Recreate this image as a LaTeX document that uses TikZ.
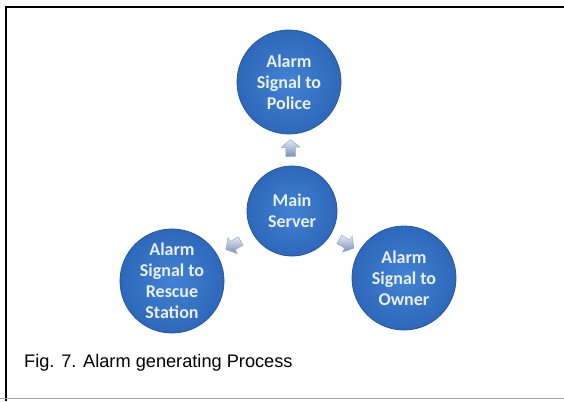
\documentclass[tikz,border=0pt]{standalone}
\usepackage{fontspec}
\setmainfont{Liberation Sans}
\newfontfamily\bubblefont{Carlito}
\usetikzlibrary{shapes.arrows}

\definecolor{bubbleblue}{RGB}{46,104,186}
\definecolor{bubblelight}{RGB}{66,130,212}
\definecolor{bubbleedge}{RGB}{38,86,158}
\definecolor{bubbletext}{RGB}{232,240,250}
\definecolor{arrowlight}{RGB}{228,234,244}
\definecolor{arrowdark}{RGB}{122,144,182}

\begin{document}
\begin{tikzpicture}[x=1pt,y=-1pt,
  bubble/.style={circle,minimum size=104pt,inner sep=0pt,draw=bubbleedge,line width=0.8pt,
    inner color=bubblelight,outer color=bubbleblue,text=bubbletext,align=center,
    font=\bubblefont\bfseries\fontsize{18}{21}\selectfont},
  hubbubble/.style={bubble,minimum size=90pt},
  blockarr/.style={single arrow,minimum height=17pt,minimum width=18pt,inner xsep=2pt,inner ysep=4.5pt,
    single arrow head extend=4.5pt,single arrow tip angle=100,draw=arrowdark!80,line width=0.5pt,
    top color=arrowlight,bottom color=arrowdark,sloped,allow upside down}]

\useasboundingbox (0,0) rectangle (564,401);

% Frame
\draw[line width=2pt] (5.5,401) -- (5.5,7) -- (564,7);
\draw[gray!70,line width=1.2pt] (0,398.5) -- (564,398.5);

% Bubbles
\node[hubbubble] (server) at (292,211) {Main\\Server};
\node[bubble] (police) at (289,82) {Alarm\\Signal to\\Police};
\node[bubble] (rescue) at (172,281) {Alarm\\Signal to\\Rescue\\Station};
\node[bubble] (owner) at (404,278) {Alarm\\Signal to\\Owner};

% Block arrows
\path (server) -- node[blockarr] {} (police);
\path (server) -- node[blockarr] {} (rescue);
\path (server) -- node[blockarr] {} (owner);

% Caption
\node[anchor=base west,inner sep=0pt,font=\fontsize{18.2}{22}\selectfont] (caption) at (24,367)
  {Fig. 7. Alarm generating Process};

\end{tikzpicture}
\end{document}
